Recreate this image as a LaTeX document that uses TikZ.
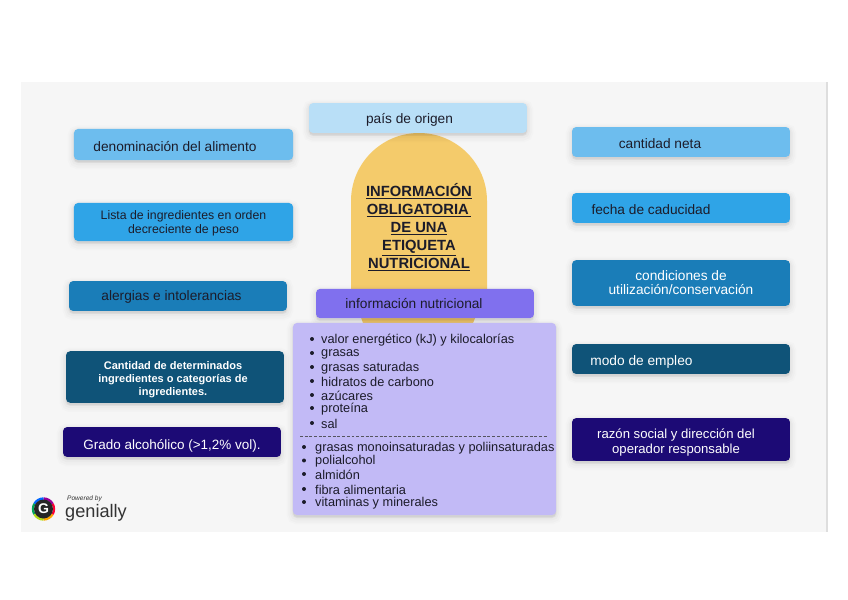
\documentclass[tikz,border=0pt]{standalone}
\usepackage{fontspec}
\setmainfont{Liberation Sans}
\usepackage{tikz}
\definecolor{fondoGris}{HTML}{F6F6F6}
\definecolor{bordeGris}{HTML}{DEDEDE}
\definecolor{azulPalido}{HTML}{B9DFF7}
\definecolor{azulClaro}{HTML}{6DBDEE}
\definecolor{azulMedio}{HTML}{2FA4E7}
\definecolor{azulFuerte}{HTML}{1A7DB8}
\definecolor{azulOscuro}{HTML}{0F5378}
\definecolor{azulNoche}{HTML}{1C0A75}
\definecolor{violeta}{HTML}{8070EE}
\definecolor{lila}{HTML}{C2BAF6}
\definecolor{mostaza}{HTML}{F4CB6B}
\definecolor{tinta}{HTML}{1C1C2A}
\tikzset{
  sombra/.style={preaction={draw=black, fill=black, draw opacity=0.012, fill opacity=0.012, line width=11pt, transform canvas={yshift=-2.5pt}},
                 preaction={draw=black, fill=black, draw opacity=0.015, fill opacity=0.015, line width=8pt, transform canvas={yshift=-2.5pt}},
                 preaction={draw=black, fill=black, draw opacity=0.02, fill opacity=0.02, line width=5pt, transform canvas={yshift=-2pt}},
                 preaction={draw=black, fill=black, draw opacity=0.025, fill opacity=0.025, line width=2.5pt, transform canvas={yshift=-1.5pt}}},
  caja/.style={sombra, rounded corners=3.5pt, inner sep=0pt, align=center},
  etiqueta/.style={inner sep=0pt, align=center, text=tinta, font=\fontsize{11.7}{12}\selectfont},
  linea/.style={font=\fontsize{10.9}{12}\selectfont, text=tinta, anchor=west, inner sep=0pt},
  punto/.style={circle, fill=tinta, inner sep=0pt, minimum size=3.4pt}
}

\begin{document}
\begin{tikzpicture}[x=0.03cm, y=-0.03cm]
    \useasboundingbox (0,0) rectangle (848,600);
    \fill[fondoGris] (21,82) rectangle (827,532);
    \fill[bordeGris] (826,82) rectangle (828,532);
    % arco central
    \fill[mostaza] (351,201) arc[start angle=180, end angle=360, radius=68] -- (487,290) -- (473,323) -- (363,323) -- (351,290) -- cycle;
    % columna izquierda
    \node[caja, fill=azulClaro, minimum width=187pt, minimum height=26.5pt] (denominacion) at (183.5,144.5) {};
    \node[caja, fill=azulMedio, minimum width=187pt, minimum height=32.5pt] (ingredientes) at (183.5,222) {};
    \node[caja, fill=azulFuerte, minimum width=186pt, minimum height=25.5pt] (alergias) at (178,296) {};
    \node[caja, fill=azulOscuro, minimum width=186pt, minimum height=44pt] (determinados) at (175,377) {};
    \node[caja, fill=azulNoche, minimum width=186pt, minimum height=25.5pt] (grado) at (172,442) {};
    \node[etiqueta] (denominacionTexto) at (175,147) {denominación del alimento};
    \node[etiqueta, font=\fontsize{10.5}{11.6}\selectfont] (ingredientesTexto) at (183.5,223.5) {Lista de ingredientes en orden\\decreciente de peso};
    \node[etiqueta] (alergiasTexto) at (171.5,297) {alergias e intolerancias};
    \node[etiqueta, text=white, font=\fontsize{9.4}{11.2}\selectfont\bfseries] (determinadosTexto) at (173,379.5) {Cantidad de determinados\\ingredientes o categorías de\\ingredientes.};
    \node[etiqueta, text=white, font=\fontsize{11.5}{12}\selectfont] (gradoTexto) at (172,446) {Grado alcohólico (>1,2\% vol).};
    % columna derecha
    \node[caja, fill=azulClaro, minimum width=186pt, minimum height=25.5pt] (neta) at (681,142) {};
    \node[caja, fill=azulMedio, minimum width=186pt, minimum height=25.5pt] (caducidad) at (681,208) {};
    \node[caja, fill=azulFuerte, minimum width=186pt, minimum height=39pt] (condiciones) at (681,283) {};
    \node[caja, fill=azulOscuro, minimum width=186pt, minimum height=25.5pt] (modo) at (681,359) {};
    \node[caja, fill=azulNoche, minimum width=186pt, minimum height=36.5pt] (razon) at (681,439.5) {};
    \node[etiqueta] (netaTexto) at (660,144) {cantidad neta};
    \node[etiqueta] (caducidadTexto) at (651,210) {fecha de caducidad};
    \node[etiqueta, text=white] (condicionesTexto) at (681,283) {condiciones de\\utilización/conservación};
    \node[etiqueta, text=white] (modoTexto) at (641.5,361.5) {modo de empleo};
    \node[etiqueta, text=white, font=\fontsize{11.2}{12}\selectfont] (razonTexto) at (676,442.5) {razón social y dirección del\\operador responsable};
    % columna central
    \node[caja, fill=azulPalido, minimum width=186pt, minimum height=25.5pt] (origen) at (418,118) {};
    \node[etiqueta] (origenTexto) at (409.5,119.5) {país de origen};
    \node[caja, fill=violeta, minimum width=186pt, minimum height=25pt] (nutricional) at (425,303.5) {};
    \node[etiqueta] (nutricionalTexto) at (414,303.5) {información nutricional};
    \node[caja, fill=lila, minimum width=224.5pt, minimum height=164pt] (lista) at (424.5,419) {};
    \node[align=center, text=tinta, inner sep=0pt, font=\fontsize{12.6}{15.4}\selectfont\bfseries] (titulo) at (419,227) {\underline{INFORMACIÓN}\\\underline{OBLIGATORIA\,}\\\underline{DE UNA}\\\underline{ETIQUETA}\\\underline{NUTRICIONAL}};
    % lista de nutrientes
    \foreach \i/\y/\t in {a/340/valor energético (kJ) y kilocalorías, b/354/grasas, c/368/grasas saturadas, d/382/hidratos de carbono, e/396/azúcares, f/409/proteína, g/424/sal} {
        \node[punto] (p\i) at (312,\y-1) {};
        \node[linea] (n\i) at (321,\y) {\t};
    }
    \draw[tinta!75, dash pattern=on 2.5pt off 1.5pt, line width=0.3pt] (300,436) -- (548,436);
    \foreach \i/\y/\t in {h/448/grasas monoinsaturadas y poliinsaturadas, k/461.5/polialcohol, l/475/almidón, m/490/fibra alimentaria, o/503/vitaminas y minerales} {
        \node[punto] (p\i) at (304,\y-1) {};
        \node[linea] (n\i) at (315,\y) {\t};
    }
    % logo
    \foreach \c/\a in {orange!70!yellow/60, red!80!magenta/0, violet!80!magenta/-60, blue!60!cyan/-120, teal!70!green/180, yellow!70!green/120} {
        \draw[\c, line width=2pt] (43.5,509) ++(\a-30:10.5) arc[start angle=\a-30, end angle=\a+30, radius=10.5];
    }
    \fill[black!85] (43.5,509) circle (9.5);
    \node[text=white, inner sep=0pt, font=\fontsize{12}{12}\selectfont\bfseries] (logoG) at (43.5,509) {G};
    \node[inner sep=0pt, text=black!80, font=\fontsize{5.6}{6}\selectfont\itshape] (powered) at (84.5,499) {Powered by};
    \node[inner sep=0pt, text=black!80, font=\fontsize{15.5}{16}\selectfont] (genially) at (96,512.5) {genially};
\end{tikzpicture}
\end{document}
